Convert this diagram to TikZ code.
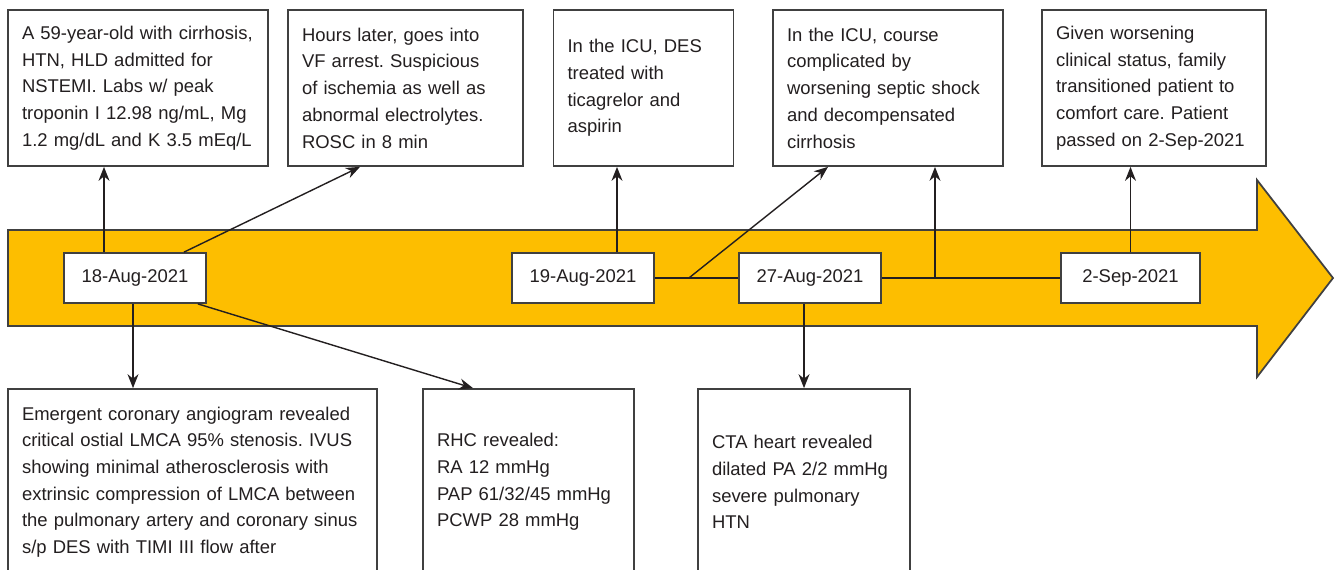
\documentclass[tikz,border=0pt]{standalone}
\usepackage{fontspec}
\setmainfont{Liberation Sans}
\usetikzlibrary{arrows.meta}
\frenchspacing

\definecolor{bandyellow}{RGB}{253,190,0}
\definecolor{linegray}{RGB}{64,64,64}
\definecolor{textgray}{RGB}{35,31,32}

\tikzset{
	event/.style = {draw=linegray, line width=1pt, fill=white, align=left, inner xsep=0.28cm, inner ysep=0pt, text=textgray, font=\fontsize{10.5}{15.2}\selectfont},
	datebox/.style = {draw=linegray, line width=1pt, fill=white, minimum width=2.84cm, minimum height=1cm, inner sep=0pt, text=textgray, font=\fontsize{10.5}{12}\selectfont},
	arr/.style = {-{Stealth[length=0.28cm, width=0.22cm]}, line width=0.8pt, draw=textgray},
	link/.style = {line width=0.8pt, draw=textgray}
}

\begin{document}
\begin{tikzpicture}[x = 0.02cm, y = -0.02cm]
	\useasboundingbox (0,0) rectangle (1338,569);
	\clip (0,0) rectangle (1338,569);
	
	% timeline arrow
	\draw[draw=linegray, fill=bandyellow, line width=1pt] (8,230) -- (1257,230) -- (1257,180) -- (1333,278) -- (1257,377) -- (1257,326) -- (8,326) -- cycle;
	
	% dates
	\node[datebox] (d18) at (135,278) {18-Aug-2021};
	\node[datebox] (d19) at (583,278) {19-Aug-2021};
	\node[datebox] (d27) at (810,278) {27-Aug-2021};
	\node[datebox, minimum width=2.78cm] (d2s) at (1130.5,278) {2-Sep-2021};
	
	% events above
	\node[event, text width=4.64cm, minimum height=3.12cm] (ev1) at (138,88) {A 59-year-old with cirrhosis,\\ HTN, HLD admitted for\\ NSTEMI. Labs w/ peak\\ troponin I 12.98 ng/mL, Mg\\ 1.2 mg/dL and K 3.5 mEq/L};
	\node[event, text width=4.14cm, minimum height=3.12cm] (ev2) at (405.5,88) {Hours later, goes into\\ VF arrest. Suspicious\\ of ischemia as well as\\ abnormal electrolytes.\\ ROSC in 8 min};
	\node[event, text width=3.04cm, minimum height=3.12cm] (ev3) at (643.5,88) {In the ICU, DES\\ treated with\\ ticagrelor and\\ aspirin};
	\node[event, text width=4.04cm, minimum height=3.12cm] (ev4) at (888,88) {In the ICU, course\\ complicated by\\ worsening septic shock\\ and decompensated\\ cirrhosis};
	\node[event, text width=3.92cm, minimum height=3.12cm] (ev5) at (1154,88) {Given worsening\\ clinical status, family\\ transitioned patient to\\ comfort care. Patient\\ passed on 2-Sep-2021};
	
	% events below
	\node[event, text width=6.82cm, minimum height=3.72cm] (ev6) at (192.5,482) {Emergent coronary angiogram revealed\\ critical ostial LMCA 95\% stenosis. IVUS\\ showing minimal atherosclerosis with\\ extrinsic compression of LMCA between\\ the pulmonary artery and coronary sinus\\ s/p DES with TIMI III flow after};
	\node[event, text width=3.66cm, minimum height=3.72cm] (ev7) at (528.5,482) {RHC revealed:\\ RA 12 mmHg\\ PAP 61/32/45 mmHg\\ PCWP 28 mmHg};
	\node[event, text width=3.68cm, minimum height=3.72cm] (ev8) at (804,482) {CTA heart revealed\\ dilated PA 2/2 mmHg\\ severe pulmonary\\ HTN};
	
	% 18-Aug
	\coordinate (a1) at ([xshift=-0.62cm]d18.north);
	\draw[arr] (a1) -- (a1 |- ev1.south);
	\draw[arr] ([xshift=0.98cm]d18.north) -- ([xshift=-0.91cm]ev2.south);
	\coordinate (a3) at ([xshift=-0.04cm]d18.south);
	\draw[arr] (a3) -- (a3 |- ev6.north);
	\draw[arr] ([xshift=-0.18cm]d18.south east) -- ([xshift=-1.11cm]ev7.north);
	
	% 19-Aug
	\coordinate (a5) at ([xshift=0.68cm]d19.north);
	\draw[arr] (a5) -- (a5 |- ev3.south);
	\draw[link] (d19.east) -- (d27.west);
	\coordinate (b1) at ([xshift=0.68cm]d19.east);
	\draw[arr] (b1) -- ([xshift=-1.2cm]ev4.south);
	
	% 27-Aug
	\draw[arr] (d27.south -| ev8.north) -- (ev8.north);
	\draw[link] (d27.east) -- (d2s.west);
	\coordinate (b2) at ([xshift=0.94cm]ev4.south);
	\draw[arr] (b2 |- d27.east) -- (b2);
	
	% 2-Sep
	\draw[arr] (d2s.north) -- (d2s.north |- ev5.south);
	
\end{tikzpicture}
\end{document}
